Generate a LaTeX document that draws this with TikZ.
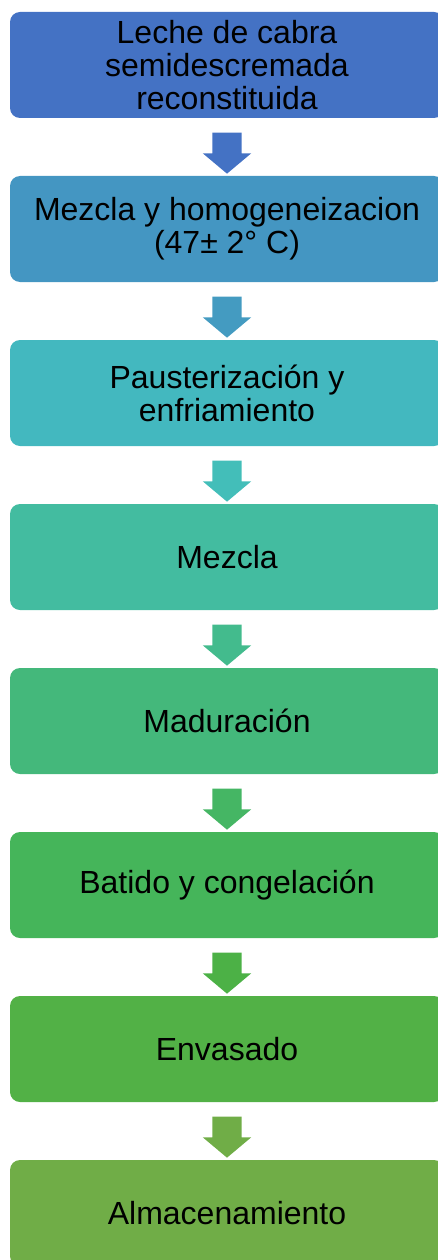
\documentclass[tikz,border=0pt]{standalone}
\usepackage{fontspec}
\setmainfont{Liberation Sans}
\usetikzlibrary{shapes.arrows,calc}
\definecolor{caja1}{HTML}{4472C4}
\definecolor{caja2}{HTML}{4496C2}
\definecolor{caja3}{HTML}{43B8BF}
\definecolor{caja4}{HTML}{43BCA0}
\definecolor{caja5}{HTML}{44B87B}
\definecolor{caja6}{HTML}{45B55A}
\definecolor{caja7}{HTML}{52B146}
\definecolor{caja8}{HTML}{70AD47}
\definecolor{flecha1}{HTML}{4472C4}
\definecolor{flecha2}{HTML}{449BC1}
\definecolor{flecha3}{HTML}{43BEB9}
\definecolor{flecha4}{HTML}{43BB8D}
\definecolor{flecha5}{HTML}{45B664}
\definecolor{flecha6}{HTML}{4CB146}
\definecolor{flecha7}{HTML}{70AD47}
\begin{document}
\begin{tikzpicture}[x=1pt,y=1pt,
		paso/.style={rectangle,rounded corners=10pt,minimum width=434pt,minimum height=106pt,
			inner sep=0pt,align=center,font=\fontsize{32}{33}\selectfont},
		flecha/.style={single arrow,rotate=-90,minimum height=41pt,inner xsep=0pt,inner ysep=14.5pt,
			single arrow head extend=9.5pt,single arrow tip angle=100}]
			\useasboundingbox (0,0) rectangle (438,-1260);
			\clip (0,0) rectangle (438,-1260);
			\node[paso,fill=caja1] (p1) at (227,-65) {Leche de cabra\\semidescremada\\reconstituida};
			\node[paso,fill=caja2] (p2) at (227,-229) {Mezcla y homogeneizacion\\(47± 2° C)};
			\node[paso,fill=caja3] (p3) at (227,-393) {Pausterización y\\enfriamiento};
			\node[paso,fill=caja4] (p4) at (227,-557) {Mezcla};
			\node[paso,fill=caja5] (p5) at (227,-721) {Maduración};
			\node[paso,fill=caja6] (p6) at (227,-885) {Batido y congelación};
			\node[paso,fill=caja7] (p7) at (227,-1049) {Envasado};
			\node[paso,fill=caja8] (p8) at (227,-1213) {Almacenamiento};
			\node[flecha,fill=flecha1] (f1) at ($(p1.south)!0.5!(p2.north)$) {};
			\node[flecha,fill=flecha2] (f2) at ($(p2.south)!0.5!(p3.north)$) {};
			\node[flecha,fill=flecha3] (f3) at ($(p3.south)!0.5!(p4.north)$) {};
			\node[flecha,fill=flecha4] (f4) at ($(p4.south)!0.5!(p5.north)$) {};
			\node[flecha,fill=flecha5] (f5) at ($(p5.south)!0.5!(p6.north)$) {};
			\node[flecha,fill=flecha6] (f6) at ($(p6.south)!0.5!(p7.north)$) {};
			\node[flecha,fill=flecha7] (f7) at ($(p7.south)!0.5!(p8.north)$) {};
		\end{tikzpicture}
\end{document}
